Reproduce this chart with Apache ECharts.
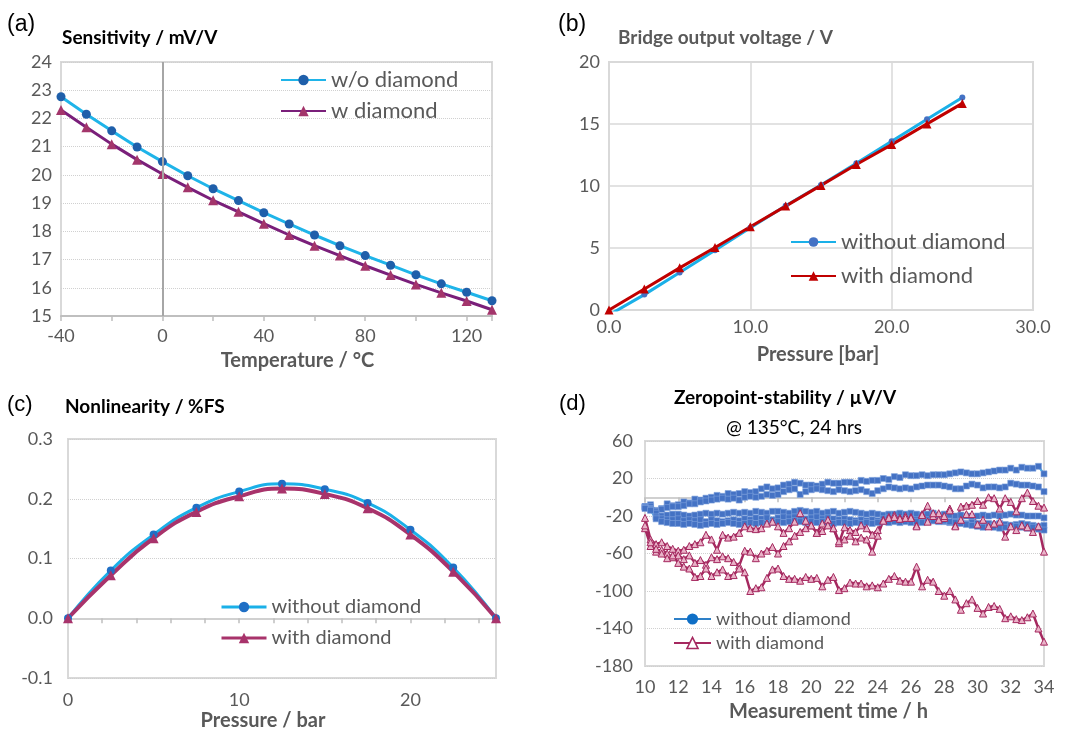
<!DOCTYPE html>
<html>
<head>
<meta charset="utf-8">
<script src="https://cdn.jsdelivr.net/npm/echarts@6/dist/echarts.min.js"></script>
<style>
html,body{margin:0;padding:0;background:#fff;}
#chart{width:1065px;height:732px;}
</style>
</head>
<body>
<div id="chart"></div>
<script>
// ---------- (a) Sensitivity ----------
const tempC = [-40,-30,-20,-10,0,10,20,30,40,50,60,70,80,90,100,110,120,130];
const sensWo = [22.77,22.15,21.56,20.99,20.47,19.97,19.51,19.09,18.66,18.26,17.87,17.49,17.14,16.80,16.46,16.14,15.84,15.54];
const sensW  = [22.30,21.69,21.09,20.54,20.03,19.56,19.10,18.69,18.27,17.87,17.49,17.14,16.78,16.45,16.12,15.82,15.53,15.22];

// ---------- (b) Bridge output voltage ----------
const pressure = [0,2.5,5,7.5,10,12.5,15,17.5,20,22.5,25];
const bridgeWo = [-0.4,1.24,3.02,4.82,6.63,8.41,10.08,11.83,13.61,15.39,17.14];
const bridgeW  = [0,1.70,3.40,5.04,6.71,8.38,10.05,11.73,13.34,15.01,16.66];

// ---------- (c) Nonlinearity ----------
const nlinWo = [0,0.080,0.140,0.185,0.212,0.225,0.216,0.193,0.148,0.085,0];
const nlinW  = [0,0.072,0.134,0.178,0.204,0.217,0.208,0.184,0.140,0.078,0];

// ---------- (d) Zeropoint stability (samples every 20 min, 10 h .. 34 h) ----------
const hourStart = 10, hourStep = 1/3;
const zpWo1 = [-10,-8,-14,-12,-7,-9,-8,-5,-6,-2,-3,-1,0,2,1,4,3,4,6,5,6,9,11,9,10,13,14,16,15,13,13,12,14,16,15,15,16,16,15,18,17,18,18,20,19,22,21,24,23,23,24,23,24,24,24,25,26,27,26,25,25,26,27,28,29,29,31,29,32,31,31,33,25];
const zpWo2 = [-10,-10,-15,-13,-11,-10,-10,-9,-7,-7,-5,-4,-3,-2,-1,-2,-1,-3,0,1,0,1,3,2,3,6,8,9,3,6,8,9,8,7,6,8,7,6,7,8,6,4,7,9,11,10,9,10,9,11,12,13,13,13,12,11,9,9,12,14,13,10,11,11,10,11,15,14,13,13,12,11,6];
const zpWo3 = [-10,-12,-17,-20,-19,-18,-18,-19,-20,-19,-18,-17,-18,-17,-18,-17,-16,-17,-16,-17,-15,-16,-17,-15,-15,-16,-17,-15,-14,-15,-16,-15,-17,-16,-15,-17,-16,-15,-16,-17,-18,-17,-18,-19,-18,-18,-17,-18,-17,-18,-19,-18,-17,-19,-18,-19,-20,-19,-20,-21,-20,-19,-20,-19,-20,-19,-18,-19,-19,-20,-20,-20,-22];
const zpWo4 = [-11,-13,-21,-23,-24,-24,-23,-25,-24,-25,-24,-26,-24,-25,-26,-25,-24,-25,-23,-24,-22,-23,-22,-24,-22,-21,-22,-21,-22,-23,-22,-21,-23,-22,-23,-24,-23,-24,-25,-24,-25,-24,-25,-23,-22,-22,-23,-24,-23,-24,-23,-24,-25,-25,-26,-27,-26,-27,-28,-27,-28,-29,-28,-29,-28,-29,-30,-29,-28,-29,-30,-31,-30];
const zpWo5 = [-12,-14,-23,-26,-27,-28,-28,-29,-28,-29,-30,-29,-28,-29,-28,-27,-28,-29,-28,-27,-28,-27,-28,-27,-26,-27,-26,-25,-26,-27,-26,-27,-26,-27,-28,-27,-27,-28,-27,-28,-27,-28,-27,-26,-27,-26,-27,-26,-27,-26,-27,-26,-25,-26,-25,-26,-27,-28,-29,-30,-31,-32,-31,-32,-33,-32,-30,-31,-32,-33,-32,-34,-35];
const zpW1 = [-22,-45,-50,-48,-52,-55,-57,-56,-52,-50,-48,-40,-45,-56,-40,-43,-42,-38,-31,-33,-34,-33,-28,-26,-31,-38,-33,-26,-17,-25,-30,-38,-28,-24,-33,-49,-32,-35,-37,-30,-33,-40,-35,-24,-21,-19,-22,-20,-21,-30,-18,-9,-20,-17,-22,-12,-30,-10,-9,-8,-4,-8,0,-1,-12,-1,-5,-15,-1,5,-4,-9,-11];
const zpW2 = [-33,-52,-58,-56,-60,-64,-62,-66,-62,-70,-67,-72,-64,-66,-63,-65,-69,-73,-57,-58,-65,-60,-57,-53,-60,-52,-47,-41,-37,-33,-30,-38,-36,-30,-33,-47,-45,-41,-47,-43,-45,-58,-41,-25,-22,-21,-23,-22,-22,-31,-19,-26,-17,-24,-20,-14,-31,-24,-18,-18,-29,-24,-31,-28,-26,-42,-31,-35,-30,-32,-37,-31,-58];
const zpW3 = [-30,-48,-55,-60,-65,-62,-70,-74,-76,-85,-84,-76,-84,-80,-77,-84,-83,-76,-80,-100,-97,-96,-86,-77,-76,-84,-87,-87,-89,-85,-87,-86,-95,-88,-85,-99,-97,-91,-92,-92,-95,-94,-96,-92,-87,-84,-89,-90,-90,-74,-95,-88,-90,-100,-105,-100,-109,-120,-113,-109,-118,-124,-117,-116,-119,-129,-127,-130,-131,-128,-124,-140,-154];

// tick labels
const tempTickLabels = [-40, 0, 40, 80, 120];
const pressTickLabels = [0, 10, 20];

// ---------- helpers ----------
const FONT = 'Lato';
const GRAY = '#595959';
function pairs(xs, ys){ return xs.map((x,i)=>[x, ys[i]]); }
function timePairs(ys){ return ys.map((y,i)=>[hourStart + i*hourStep, y]); }

const gridsCfg = [
  {left:61, top:62, width:431, height:254},
  {left:609, top:62, width:424, height:248},
  {left:68, top:439, width:428, height:240},
  {left:645, top:441, width:399, height:225}
];

const tickLabelStyle = {color:GRAY, fontFamily:FONT, fontSize:18};
function nameStyle(shift){
  // shift > 0 moves the title right, < 0 left
  return {color:GRAY, fontFamily:FONT, fontSize:20, fontWeight:'bold',
          padding: shift>=0 ? [0,0,0,2*shift] : [0,-2*shift,0,0]};
}

const option = {
  animation:false,
  backgroundColor:'#fff',
  grid: gridsCfg.map(g=>Object.assign({show:true, borderColor:'#D9D9D9', borderWidth:2, backgroundColor:'transparent'}, g)),
  xAxis:[
    {gridIndex:0, type:'value', min:-40, max:130, interval:20,
     name:'Temperature / °C', nameLocation:'middle', nameGap:35, nameTextStyle:nameStyle(21),
     axisLine:{show:true, lineStyle:{color:'#BFBFBF', width:2}},
     axisTick:{show:true, length:5, lineStyle:{color:'#BFBFBF', width:1.5}},
     axisLabel:Object.assign({margin:11, formatter:v=>tempTickLabels.indexOf(v)>=0? String(v):''}, tickLabelStyle),
     splitLine:{show:false}},
    {gridIndex:1, type:'value', min:0, max:30, interval:10,
     name:'Pressure [bar]', nameLocation:'middle', nameGap:35, nameTextStyle:nameStyle(-3),
     axisLine:{show:true, lineStyle:{color:'#D9D9D9', width:2}},
     axisTick:{show:false},
     axisLabel:Object.assign({margin:8, formatter:v=>v.toFixed(1)}, tickLabelStyle),
     splitLine:{show:true, lineStyle:{color:'#D9D9D9', width:1.5}}},
    {gridIndex:2, type:'value', min:0, max:25, interval:2,
     name:'Pressure / bar', nameLocation:'middle', nameGap:33, nameTextStyle:nameStyle(-19),
     axisLine:{show:true, lineStyle:{color:'#D0D0D0', width:2}},
     axisTick:{show:true, length:5, lineStyle:{color:'#BFBFBF', width:1.5}},
     axisLabel:Object.assign({margin:13, formatter:v=>pressTickLabels.indexOf(v)>=0? String(v):''}, tickLabelStyle),
     splitLine:{show:false}},
    {gridIndex:3, type:'value', min:10, max:34, interval:2,
     name:'Measurement time / h', nameLocation:'middle', nameGap:36, nameTextStyle:nameStyle(-16),
     axisLine:{show:true, lineStyle:{color:'#D0D0D0', width:2}},
     axisTick:{show:true, length:5, lineStyle:{color:'#BFBFBF', width:1.5}},
     axisLabel:Object.assign({margin:12}, tickLabelStyle),
     splitLine:{show:false}}
  ],
  yAxis:[
    {gridIndex:0, type:'value', min:15, max:24, interval:1,
     axisLine:{show:false}, axisTick:{show:false},
     axisLabel:Object.assign({margin:9}, tickLabelStyle),
     splitLine:{show:true, lineStyle:{color:'#D0D0D0', type:'dotted', width:1}}},
    {gridIndex:1, type:'value', min:0, max:20, interval:5,
     axisLine:{show:false}, axisTick:{show:false},
     axisLabel:Object.assign({margin:9}, tickLabelStyle),
     splitLine:{show:true, lineStyle:{color:'#D9D9D9', width:1.5}}},
    {gridIndex:2, type:'value', min:-0.1, max:0.3, interval:0.1,
     axisLine:{show:false}, axisTick:{show:false},
     axisLabel:Object.assign({margin:15, formatter:v=>v.toFixed(1)}, tickLabelStyle),
     splitLine:{show:true, lineStyle:{color:'#D0D0D0', type:'dotted', width:1}}},
    {gridIndex:3, type:'value', min:-180, max:60, interval:40,
     axisLine:{show:false}, axisTick:{show:false},
     axisLabel:Object.assign({margin:12}, tickLabelStyle),
     splitLine:{show:true, lineStyle:{color:'#D0D0D0', type:'dotted', width:1}}}
  ],
  legend:[
    {left:280, top:68, orient:'vertical', padding:0, itemWidth:45, itemHeight:13, itemGap:7,
     textStyle:{fontFamily:FONT, fontSize:22, color:GRAY, lineHeight:24},
     data:['w/o diamond','w diamond']},
    {left:790, top:230, orient:'vertical', padding:0, itemWidth:45, itemHeight:12, itemGap:10,
     textStyle:{fontFamily:FONT, fontSize:22, color:GRAY, lineHeight:24},
     data:['without diamond','with diamond']},
    {left:220, top:596, orient:'vertical', padding:0, itemWidth:45, itemHeight:13, itemGap:9,
     textStyle:{fontFamily:FONT, fontSize:20, color:GRAY, lineHeight:22},
     data:[
       {name:'without diamond', itemStyle:{color:'#1F6FC5'}, lineStyle:{color:'#1AB0E8', width:3}},
       {name:'with diamond', itemStyle:{color:'#A8336B'}, lineStyle:{color:'#A8336B', width:3}}
     ]},
    {left:673, top:609, orient:'vertical', padding:0, itemWidth:37, itemHeight:14, itemGap:4,
     textStyle:{fontFamily:FONT, fontSize:18, color:GRAY, lineHeight:20},
     data:[
       {name:'without diamond', itemStyle:{color:'#0F6FC6'}, lineStyle:{color:'#2E80C8', width:2}},
       {name:'with diamond', itemStyle:{color:'#ffffff', borderColor:'#A5285F', borderWidth:1.5}, lineStyle:{color:'#A5285F', width:2}}
     ]}
  ],
  graphic:[
    {type:'text', x:7, y:25, style:{text:'(a)', fontFamily:'Liberation Sans', fontSize:23, fill:'#000', align:'left', verticalAlign:'middle'}},
    {type:'text', x:558, y:25, style:{text:'(b)', fontFamily:'Liberation Sans', fontSize:23, fill:'#000', align:'left', verticalAlign:'middle'}},
    {type:'text', x:7, y:405, style:{text:'(c)', fontFamily:'Liberation Sans', fontSize:22, fill:'#000', align:'left', verticalAlign:'middle'}},
    {type:'text', x:559, y:404, style:{text:'(d)', fontFamily:'Liberation Sans', fontSize:22, fill:'#000', align:'left', verticalAlign:'middle'}},
    {type:'text', x:62, y:38, style:{text:'Sensitivity / mV/V', fontFamily:FONT, fontSize:19, fontWeight:'bold', fill:'#000', align:'left', verticalAlign:'middle'}},
    {type:'text', x:618, y:38, style:{text:'Bridge output voltage / V', fontFamily:FONT, fontSize:19, fontWeight:'bold', fill:GRAY, align:'left', verticalAlign:'middle'}},
    {type:'text', x:65, y:407, style:{text:'Nonlinearity / %FS', fontFamily:FONT, fontSize:19, fontWeight:'bold', fill:'#000', align:'left', verticalAlign:'middle'}},
    {type:'text', x:785, y:398, style:{text:'Zeropoint-stability / µV/V', fontFamily:FONT, fontSize:19, fontWeight:'bold', fill:'#000', align:'center', verticalAlign:'middle'}},
    {type:'text', x:794, y:428, style:{text:'@ 135°C, 24 hrs', fontFamily:FONT, fontSize:19, fill:'#000', align:'center', verticalAlign:'middle'}}
  ],
  series:[]
};

// (a)
option.series.push({
  name:'w/o diamond', type:'line', xAxisIndex:0, yAxisIndex:0, data:pairs(tempC, sensWo),
  symbol:'circle', symbolSize:9, lineStyle:{color:'#1FB4E9', width:3}, itemStyle:{color:'#1F5FAA'},
  markLine:{silent:true, symbol:['none','none'], label:{show:false}, lineStyle:{color:'#A6A6A6', width:2, type:'solid'}, data:[{xAxis:0}]}
});
option.series.push({
  name:'w diamond', type:'line', xAxisIndex:0, yAxisIndex:0, data:pairs(tempC, sensW),
  symbol:'triangle', symbolSize:10, lineStyle:{color:'#7A1F7A', width:3}, itemStyle:{color:'#A3356B'}
});
// (b)
option.series.push({
  name:'without diamond', type:'line', xAxisIndex:1, yAxisIndex:1, data:pairs(pressure, bridgeWo),
  symbol:'circle', symbolSize:6, lineStyle:{color:'#1AB0E8', width:3}, itemStyle:{color:'#4472C4'}
});
option.series.push({
  name:'with diamond', type:'line', xAxisIndex:1, yAxisIndex:1, data:pairs(pressure, bridgeW),
  symbol:'triangle', symbolSize:9, lineStyle:{color:'#C00000', width:3}, itemStyle:{color:'#C00000'}
});
// (c)
option.series.push({
  name:'without diamond', type:'line', xAxisIndex:2, yAxisIndex:2, data:pairs(pressure, nlinWo), smooth:true,
  symbol:'circle', symbolSize:8, lineStyle:{color:'#1AB0E8', width:3}, itemStyle:{color:'#1F6FC5'}
});
option.series.push({
  name:'with diamond', type:'line', xAxisIndex:2, yAxisIndex:2, data:pairs(pressure, nlinW), smooth:true,
  symbol:'triangle', symbolSize:10, lineStyle:{color:'#A8336B', width:4}, itemStyle:{color:'#A8336B'}
});
// (d)
[zpWo1, zpWo2, zpWo3, zpWo4, zpWo5].forEach(arr=>{
  option.series.push({
    name:'without diamond', type:'line', xAxisIndex:3, yAxisIndex:3, data:timePairs(arr),
    symbol:'rect', symbolSize:6, lineStyle:{color:'#2AA8E6', width:2},
    itemStyle:{color:'#4472C4', borderColor:'#7FA3DE', borderWidth:0.6}
  });
});
[zpW1, zpW2, zpW3].forEach(arr=>{
  option.series.push({
    name:'with diamond', type:'line', xAxisIndex:3, yAxisIndex:3, data:timePairs(arr),
    symbol:'triangle', symbolSize:7, lineStyle:{color:'#A5285F', width:2.5},
    itemStyle:{color:'#E9B3C8', borderColor:'#A5285F', borderWidth:1}
  });
});

const chart = echarts.init(document.getElementById('chart'), null, {renderer:'canvas'});
chart.setOption(option);
</script>
</body>
</html>
